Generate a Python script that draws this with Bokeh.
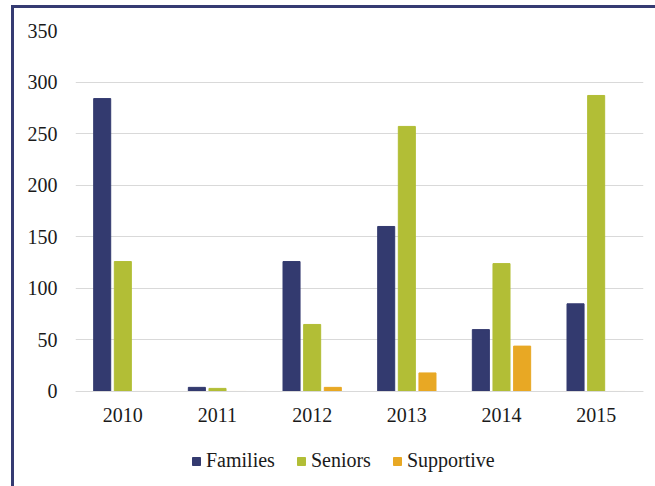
from bokeh.plotting import figure
from bokeh.models import ColumnDataSource, Range1d, FactorRange, Legend, LegendItem
from bokeh.transform import dodge
from bokeh.embed import file_html
from bokeh.resources import INLINE

years = ["2010", "2011", "2012", "2013", "2014", "2015"]
families = [284, 4, 126, 160, 60, 85]
seniors = [126, 3, 65, 257, 124, 287]
supportive = [0, 0, 4, 18, 44, 0]
y_ticks = [0, 50, 100, 150, 200, 250, 300, 350]

FONT = "Liberation Serif"
FS = "20px"
NAVY = "#333A6F"
GREEN = "#B2BE36"
ORANGE = "#E8A824"
BORDER = "#353B72"

src = ColumnDataSource(dict(years=years, families=families, seniors=seniors, supportive=supportive))

# frame extends below zero to host the category axis and the legend
p = figure(width=655, height=486, x_range=FactorRange(*years, range_padding=0),
           y_range=Range1d(-84.35, 350), output_backend="svg", toolbar_location=None,
           min_border_left=75, min_border_top=30, min_border_right=12, min_border_bottom=8)
p.outline_line_color = None
p.border_fill_color = None
p.background_fill_color = "white"
p.styles = {"box-shadow": (f"inset 0 5px 0 0 #ffffff, inset 11px 0 0 0 #ffffff, "
                           f"inset 0 8px 0 0 {BORDER}, inset 14px 0 0 0 {BORDER}")}

w = 0.18
r1 = p.vbar(x=dodge("years", -0.218, range=p.x_range), top="families", width=w, source=src, color=NAVY)
r2 = p.vbar(x=dodge("years", 0.0, range=p.x_range), top="seniors", width=w, source=src, color=GREEN)
r3 = p.vbar(x=dodge("years", 0.218, range=p.x_range), top="supportive", width=w, source=src, color=ORANGE)

p.xgrid.grid_line_color = None
p.ygrid.grid_line_color = "#D9D9D9"
p.ygrid.grid_line_width = 1
p.yaxis.ticker = y_ticks

for ax in (p.xaxis[0], p.yaxis[0]):
    ax.major_tick_line_color = None
    ax.minor_tick_line_color = None
    ax.major_tick_out = 0
    ax.major_tick_in = 0
    ax.minor_tick_out = 0
    ax.major_label_text_font = FONT
    ax.major_label_text_font_size = FS
    ax.major_label_text_color = "#1a1a1a"
p.yaxis.axis_line_color = None
p.yaxis.major_label_standoff = 18
p.xaxis.axis_line_color = "#D9D9D9"
p.xaxis.axis_line_width = 1
p.xaxis.major_label_standoff = 17
p.xaxis.fixed_location = 0

legend = Legend(items=[LegendItem(label="Families", renderers=[r1]),
                       LegendItem(label="Seniors", renderers=[r2]),
                       LegendItem(label="Supportive", renderers=[r3])],
                orientation="horizontal", location=(116, 6),
                glyph_width=10, glyph_height=10, label_standoff=5, spacing=21,
                padding=0, margin=0, border_line_color=None, background_fill_alpha=0,
                label_text_font=FONT, label_text_font_size=FS, label_text_color="#1a1a1a")
p.add_layout(legend, "center")

open("out.html", "w").write(file_html(p, INLINE))
